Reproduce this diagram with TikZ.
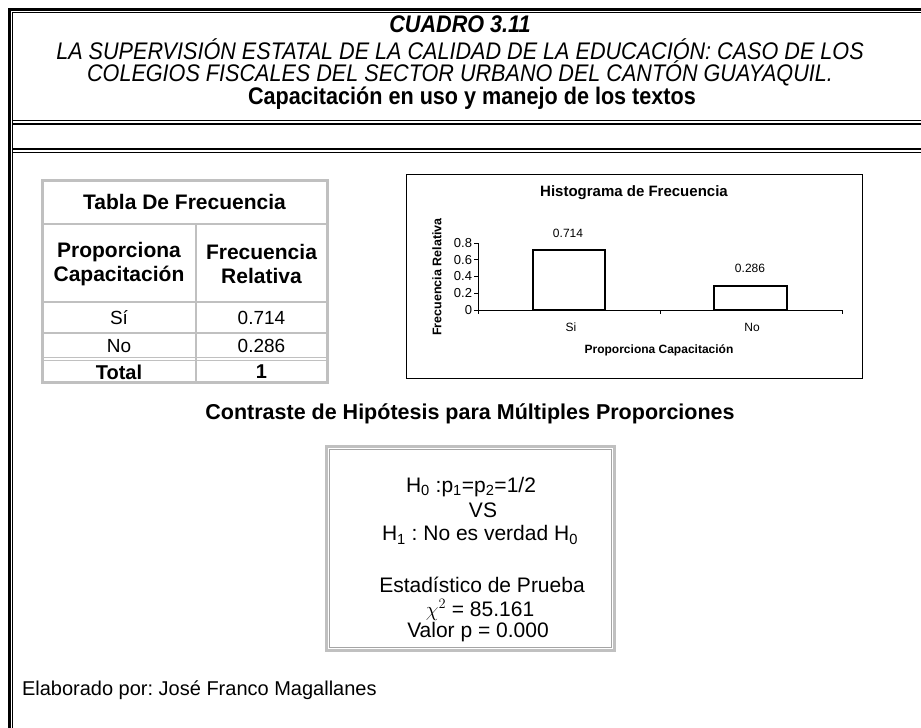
\documentclass[tikz,border=0pt]{standalone}
\usepackage{fontspec}
\setmainfont{Liberation Sans}
\usepackage{graphicx}
\frenchspacing
\definecolor{tgray}{RGB}{192,192,192}
\definecolor{bgray}{RGB}{165,165,165}
\tikzset{
  txt/.style={inner sep=0pt, outer sep=0pt, anchor=center},
  hdrit/.style={txt, font=\fontsize{24}{26}\selectfont\itshape},
  hdrbf/.style={txt, font=\fontsize{24}{26}\selectfont\bfseries},
  hdrbi/.style={txt, font=\fontsize{24}{26}\selectfont\bfseries\itshape},
  tbold/.style={txt, font=\fontsize{21}{24}\selectfont\bfseries},
  tval/.style={txt, font=\fontsize{19}{22}\selectfont},
  btext/.style={txt, font=\fontsize{21}{24}\selectfont},
  ctext/.style={txt, font=\fontsize{12}{14}\selectfont},
  ctick/.style={txt, font=\fontsize{13}{15}\selectfont, anchor=east},
  cbold/.style={txt, font=\fontsize{12.5}{14}\selectfont\bfseries},
  tgrid/.style={draw=tgray, line width=2pt},
  bar/.style={draw=black, line width=1.8pt, fill=white},
  axis/.style={line width=0.6pt},
}
\begin{document}
\begin{tikzpicture}[x=1pt,y=-1pt]
\useasboundingbox (0,0) rectangle (921,728);
% outer double frame
\draw[line width=3pt] (9.5,760) -- (9.5,9.5) -- (960,9.5);
\draw[line width=1pt] (12.5,760) -- (12.5,12.5) -- (960,12.5);
\draw[line width=1pt] (12.5,120.5) -- (960,120.5);
\draw[line width=2.5pt] (12.5,124) -- (960,124);
\draw[line width=2.5pt] (12.5,149) -- (960,149);
\draw[line width=1pt] (12.5,152.5) -- (960,152.5);
% header text
\node[hdrbi] (cuadro) at (460,24) {\scalebox{0.9}[1]{CUADRO 3.11}};
\node[hdrit] (l2) at (460,49) {\scalebox{0.9}[1]{LA SUPERVISIÓN ESTATAL DE LA CALIDAD DE LA EDUCACIÓN: CASO DE LOS}};
\node[hdrit] (l3) at (460,73.5) {\scalebox{0.9}[1]{COLEGIOS FISCALES DEL SECTOR URBANO DEL CANTÓN GUAYAQUIL.}};
\node[hdrbf] (l4) at (472,98) {\scalebox{0.9}[1]{Capacitación en uso y manejo de los textos}};
% frequency table
\draw[tgrid] (42,224) -- (327,224);
\draw[tgrid] (42,302) -- (327,302);
\draw[tgrid] (42,333) -- (327,333);
\draw[draw=tgray, line width=1pt] (42,357.5) -- (327,357.5);
\draw[draw=tgray, line width=1pt] (42,360.5) -- (327,360.5);
\draw[tgrid] (196,224) -- (196,382);
\draw[draw=tgray, line width=3pt] (42,180) rectangle (327,382);
\node[tbold] (tt) at (184.5,202) {Tabla De Frecuencia};
\node[tbold, align=center] (c1) at (119,264) {Proporciona\\Capacitación};
\node[tbold, align=center] (c2) at (261.5,264) {Frecuencia\\Relativa};
\node[tval] (si1) at (119,318) {Sí};
\node[tval] (si2) at (261.5,318) {0.714};
\node[tval] (no1) at (119,346) {No};
\node[tval] (no2) at (261.5,346) {0.286};
\node[tbold, font=\fontsize{20}{22}\selectfont\bfseries] (to1) at (119,372) {Total};
\node[tbold, font=\fontsize{20}{22}\selectfont\bfseries] (to2) at (261.5,372) {1};
% histogram
\draw[line width=0.8pt] (406,174) rectangle (862,378);
\node[txt, font=\fontsize{15}{17}\selectfont\bfseries] (htitle) at (634,193) {Histograma de Frecuencia};
\node[cbold, rotate=90] (ylab) at (437,277) {Frecuencia Relativa};
\coordinate (o) at (478,310);
\coordinate (ytop) at (478,243);
\coordinate (xend) at (842,310);
\draw[axis] (ytop) -- (o) -- (xend);
\foreach \v/\y in {0/310,0.2/293.25,0.4/276.5,0.6/259.75,0.8/243}{
  \draw[axis] (474,\y) -- (478,\y);
  \node[ctick] at (472,\y) {\v};
}
\foreach \xx in {478,660,842}{ \draw[axis] (\xx,310) -- (\xx,314); }
\draw[bar] (533,250) rectangle (605,310);
\draw[bar] (714,286) rectangle (787,310);
\node[ctext] (v1) at (568,233) {0.714};
\node[ctext] (v2) at (750,268) {0.286};
\node[ctext] (xs) at (571,327) {Si};
\node[ctext] (xn) at (752,327) {No};
\node[cbold, font=\fontsize{12}{14}\selectfont\bfseries] (xlab) at (659,350) {Proporciona Capacitación};
% contrast
\node[tbold, font=\fontsize{21.5}{24}\selectfont\bfseries] (ctitle) at (470,414) {Contraste de Hipótesis para Múltiples Proporciones};
\draw[draw=tgray, line width=3pt] (326,446) rectangle (614,650);
\draw[draw=bgray, line width=0.8pt] (329,449) rectangle (611,647);
\node[btext, anchor=west] (h0) at (406,487) {H\textsubscript{0} :p\textsubscript{1}=p\textsubscript{2}=1/2};
\node[btext] (vs) at (483,510) {VS};
\node[btext] (h1) at (480,535) {H\textsubscript{1} : No es verdad H\textsubscript{0}};
\node[btext] (est) at (482,585) {Estadístico de Prueba};
\node[btext] (chi) at (480,610) {$\chi^2$ = 85.161};
\node[btext] (val) at (478,632) {Valor p = 0.000};
\node[txt, font=\fontsize{20}{23}\selectfont, anchor=west] (elab) at (22,690) {Elaborado por: José Franco Magallanes};
\end{tikzpicture}
\end{document}
